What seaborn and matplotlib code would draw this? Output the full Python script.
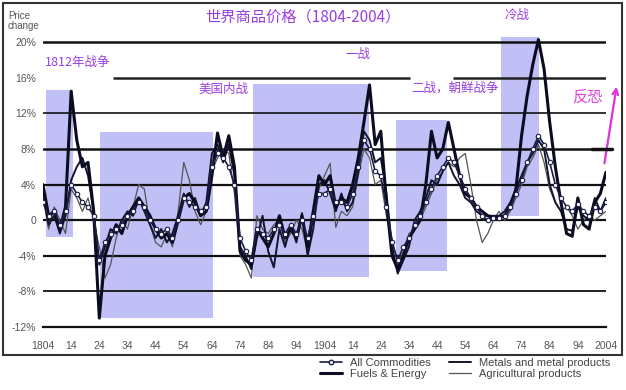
import matplotlib
matplotlib.use("Agg")
import matplotlib.pyplot as plt
from matplotlib.patches import Rectangle
from matplotlib.lines import Line2D
import numpy as np
import pandas as pd
import seaborn as sns

# two-year steps, 1804 .. 2004
years = np.arange(1804, 2005, 2)

all_commodities = [
    2.0, 0.5, 1.0, -0.5, 1.0, 4.0, 3.0, 2.0, 1.5, 0.5,
    -4.5, -2.5, -1.5, -1.0, -0.5, 0.5, 1.0, 2.0, 1.5, 0.0,
    -1.0, -1.5, -1.0, -2.0, 0.0, 2.5, 2.0, 1.5, 1.0, 1.5,
    6.0, 7.5, 7.0, 6.0, 4.0, -2.0, -3.5, -4.5, -1.0, -1.5,
    -2.0, -1.0, -0.5, -1.5, -0.5, -1.5, 0.0, -2.0, 0.5, 3.0,
    3.0, 3.5, 2.0, 2.0, 1.5, 3.0, 6.0, 9.0, 8.0, 5.5,
    5.0, 1.5, -2.5, -4.5, -3.0, -2.0, -0.5, 0.5, 2.0, 3.5,
    5.0, 6.0, 7.0, 6.5, 5.0, 3.5, 2.5, 1.5, 0.5, 0.0,
    0.3, 0.2, 0.5, 1.5, 3.0, 4.5, 6.5, 8.0, 9.5, 8.5,
    6.5, 4.0, 2.5, 1.5, 1.0, 1.8, 1.0, 0.5, 1.5, 1.0,
    2.0]

fuels_energy = [
    4.0, 0.5, 1.0, -1.0, 1.5, 14.5, 9.0, 6.0, 6.5, 1.0,
    -11.0, -4.0, -2.0, -0.5, -1.5, 0.5, 1.5, 2.5, 1.5, 0.5,
    -1.0, -2.0, -1.5, -2.5, 0.0, 2.5, 3.0, 2.0, 0.5, 1.0,
    5.0, 9.8, 7.0, 9.5, 6.0, -3.5, -4.5, -5.0, -1.0, -2.0,
    -3.0, -1.5, 0.5, -2.0, -1.0, -2.0, 0.5, -3.0, 1.0, 5.0,
    4.0, 5.0, 1.5, 2.5, 2.0, 4.0, 7.0, 11.0, 15.2, 8.5,
    10.0, 2.0, -4.0, -5.5, -4.0, -2.0, -1.0, 0.0, 4.0, 10.0,
    7.0, 8.0, 11.0, 8.0, 5.0, 3.0, 2.5, 1.5, 1.0, 0.5,
    0.3, 0.3, 0.5, 1.5, 3.5, 9.5, 14.0, 17.5, 20.3, 17.0,
    11.0, 6.0, 2.0, -1.5, -1.8, 2.5, -0.5, -1.0, 2.0, 3.0,
    5.4]

metals = [
    3.0, -0.5, 0.5, -1.5, 0.5, 4.5, 6.0, 7.0, 5.0, 1.0,
    -5.0, -3.0, -1.0, -1.5, 0.0, 1.0, 0.5, 2.5, 1.0, -0.5,
    -2.0, -1.0, -2.5, -1.5, 0.5, 3.0, 1.5, 2.5, 0.5, 2.0,
    7.5, 8.5, 6.5, 8.5, 5.0, -3.0, -4.0, -5.5, -2.0, 0.5,
    -3.5, -5.3, -1.0, -3.0, -0.5, -2.5, 0.8, -4.0, -1.0, 4.0,
    4.5, 3.0, 1.0, 3.0, 1.0, 2.0, 5.5, 10.0, 9.0, 6.5,
    7.0, 3.0, -3.0, -6.0, -4.5, -3.0, 0.0, 1.0, 2.5, 4.5,
    4.0, 5.5, 6.5, 5.0, 4.0, 2.5, 2.0, 1.0, 0.5, 0.5,
    0.5, 0.5, 1.0, 2.0, 3.5, 5.0, 6.5, 7.5, 9.0, 8.0,
    4.0, 2.0, 1.0, -1.0, -1.2, 1.5, 0.5, 0.0, 2.5, 1.0,
    2.5]

agricultural = [
    2.5, -1.0, 1.5, 0.0, -1.5, 3.5, 2.5, 1.0, 2.5, 0.0,
    -3.0, -6.5, -5.0, -2.0, 0.0, -1.0, 1.5, 4.0, 3.5, -0.5,
    -2.5, -3.0, -1.5, -3.0, 1.0, 6.5, 4.5, 1.0, -0.5, 1.0,
    5.5, 7.0, 8.0, 7.5, 3.0, -4.0, -5.0, -6.5, 0.5, -1.0,
    -1.5, -0.5, 0.0, -2.5, -1.5, 0.0, -1.0, -3.5, 0.0, 3.5,
    5.0, 6.4, -0.8, 1.0, 0.5, 1.5, 5.0, 8.0, 7.0, 4.0,
    4.5, 0.5, -2.0, -5.0, -3.5, -1.5, -1.0, 0.0, 1.5, 3.0,
    4.5, 5.5, 6.5, 6.0, 7.0, 7.5, 4.0, 0.0, -2.5, -1.5,
    0.0, 1.0, 0.0, 1.0, 2.5, 4.0, 6.0, 7.0, 8.5, 6.5,
    3.5, 2.0, 1.0, 1.5, 0.5, -1.0, 0.0, 0.5, 0.0, 0.5,
    1.0]

# shaded war periods
war_start = [1805.0, 1824.3, 1878.7, 1929.3, 1966.6]
war_end = [1814.5, 1864.5, 1919.7, 1947.4, 1980.1]
war_low = [-1.9, -11.0, -6.4, -5.7, 0.5]
war_high = [14.6, 9.9, 15.3, 11.3, 20.6]

xticks = list(range(1804, 2005, 10))
xtick_labels = ["1804", "14", "24", "34", "44", "54", "64", "74", "84", "94",
                "1904", "14", "24", "34", "44", "54", "64", "74", "84", "94", "2004"]
yticks = [-12, -8, -4, 0, 4, 8, 12, 16, 20]
ytick_labels = ["-12%", "-8%", "-4%", "0", "4%", "8%", "12%", "16%", "20%"]

sns.set_style("white")
plt.rcParams['font.family'] = ['Liberation Sans', 'Noto Sans CJK SC', 'DejaVu Sans']

W, H = 626, 390
fig = plt.figure(figsize=(W / 100, H / 100), dpi=100)


def fx(x):
    return x / W


def fy(y):
    return 1 - y / H


ax = fig.add_axes([fx(43), fy(327), fx(606) - fx(43), fy(28) - fy(327)])
ax.set_xlim(1804, 2004)
ax.set_ylim(-12, 21.6)

for s, e, lo, hi in zip(war_start, war_end, war_low, war_high):
    ax.add_patch(Rectangle((s, lo), e - s, hi - lo, facecolor='#c0c0f7',
                           edgecolor='none', zorder=0))

# horizontal rules
for yv, w in [(-8, 1.3), (-4, 1.6), (0, 1.6), (4, 1.6), (8, 1.8), (12, 1.2), (20, 1.8)]:
    ax.axhline(yv, color='#111111', lw=w, zorder=1)
ax.hlines(16, 1829, 1934.5, color='#222222', lw=1.8, zorder=1)
ax.hlines(16, 1949.5, 2004, color='#222222', lw=1.8, zorder=1)

df = pd.DataFrame({'year': years, 'all': all_commodities, 'fuels': fuels_energy,
                   'metals': metals, 'agri': agricultural})

sns.lineplot(data=df, x='year', y='agri', ax=ax, color='#555555', lw=0.9, zorder=2)
sns.lineplot(data=df, x='year', y='metals', ax=ax, color='#14142e', lw=1.4, zorder=3)
sns.lineplot(data=df, x='year', y='fuels', ax=ax, color='#0c0c20', lw=2.2, zorder=4)
sns.lineplot(data=df, x='year', y='all', ax=ax, color='#1c1c48', lw=1.2, zorder=5,
             marker='o', markersize=3.2, markerfacecolor='white',
             markeredgecolor='#1c1c48', markeredgewidth=0.8)

ax.set_xlabel('')
ax.set_ylabel('')
ax.set_xticks(xticks)
ax.set_xticklabels(xtick_labels, fontsize=7.5, color='#555555')
ax.set_yticks(yticks)
ax.set_yticklabels(ytick_labels, fontsize=7.5, color='#555555')
ax.tick_params(axis='x', direction='out', length=4, width=1.2, color='#111111', pad=6)
ax.tick_params(axis='y', length=0, pad=5)
for side in ['top', 'right', 'left']:
    ax.spines[side].set_visible(False)
ax.spines['bottom'].set_color('#111111')
ax.spines['bottom'].set_linewidth(1.6)
ax.patch.set_alpha(0)

# annotations
purple = '#9a3ee0'
cjk = ['Noto Sans CJK SC', 'DejaVu Sans']
fig.text(fx(8), fy(21), 'Price\nchange', fontsize=7, color='#555555',
         va='center', ha='left', linespacing=1.0)
fig.text(fx(205), fy(17), '世界商品价格（1804-2004）', fontsize=11, color=purple,
         va='center', ha='left', family=cjk)
fig.text(fx(45), fy(62), '1812年战争', fontsize=9, color=purple, va='center', family=cjk)
fig.text(fx(198), fy(89), '美国内战', fontsize=9, color=purple, va='center', family=cjk)
fig.text(fx(345), fy(54), '一战', fontsize=9, color=purple, va='center', family=cjk)
fig.text(fx(411), fy(88), '二战，朝鲜战争', fontsize=9, color=purple, va='center', family=cjk)
fig.text(fx(505), fy(15), '冷战', fontsize=9, color=purple, va='center', family=cjk)
fig.text(fx(572), fy(97), '反恐', fontsize=11, color='#e040e0', va='center', family=cjk)

fig.add_artist(Line2D([fx(592), fx(612)], [fy(149), fy(149)], color='#111111', lw=2.5))
ax.annotate('', xy=(fx(617), fy(84)), xytext=(fx(604), fy(166)),
            xycoords='figure fraction', textcoords='figure fraction',
            arrowprops=dict(arrowstyle='->', color='#e030e0', lw=1.6))

# outer frame
fig.add_artist(Rectangle((fx(3), fy(355)), fx(622) - fx(3), fy(3) - fy(355),
                         transform=fig.transFigure, fill=False,
                         edgecolor='#333333', lw=1.5))

handles = [
    Line2D([], [], color='#1c1c48', lw=1.2, marker='o', markersize=3.2,
           markerfacecolor='white', markeredgecolor='#1c1c48'),
    Line2D([], [], color='#0c0c20', lw=2.2),
    Line2D([], [], color='#14142e', lw=1.4),
    Line2D([], [], color='#555555', lw=0.9),
]
labels = ['All Commodities', 'Fuels & Energy', 'Metals and metal products',
          'Agricultural products']
leg = fig.legend(handles, labels, ncol=2, loc='upper left',
                 bbox_to_anchor=(fx(318), fy(356)), frameon=False, fontsize=8,
                 handlelength=2.0, columnspacing=1.6, labelspacing=0.1,
                 handletextpad=0.7, borderaxespad=0, borderpad=0.2)
for t in leg.get_texts():
    t.set_color('#444444')

fig.savefig('out.png', dpi=100, facecolor='white')
